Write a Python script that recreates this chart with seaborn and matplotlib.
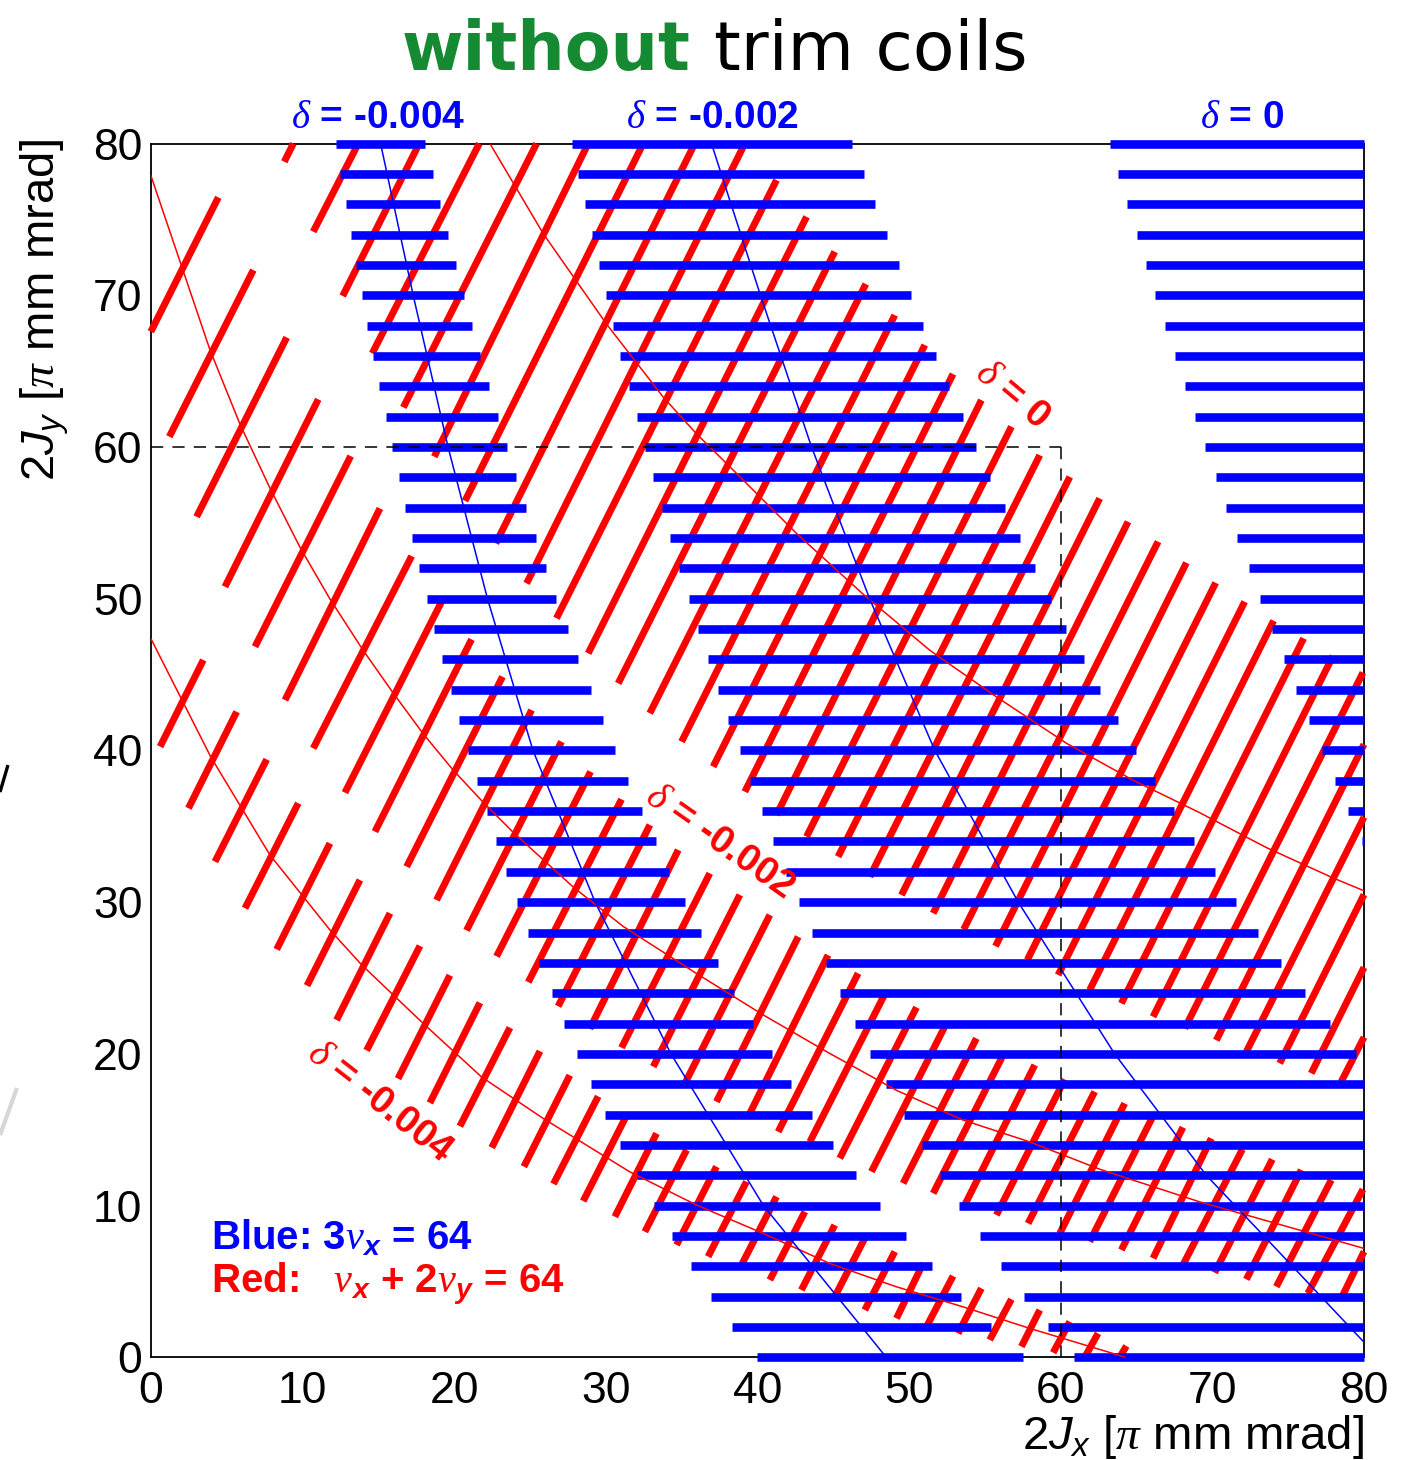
import numpy as np
import pandas as pd
import matplotlib
matplotlib.use("Agg")
import matplotlib.pyplot as plt
from matplotlib.lines import Line2D
import seaborn as sns

# ------------------------------------------------------------------
# 3 nu_x = 64 : horizontal excursion bands (one row every 2 units of 2Jy)
# ------------------------------------------------------------------
row_jy = [80, 78, 76, 74, 72, 70, 68, 66, 64, 62, 60, 58, 56, 54, 52, 50, 48,
          46, 44, 42, 40, 38, 36, 34, 32, 30, 28, 26, 24, 22, 20, 18, 16, 14,
          12, 10, 8, 6, 4, 2, 0]

# delta = -0.004 band
blue_a_left = [12.2, 12.5, 12.85, 13.2, 13.55, 13.9, 14.27, 14.67, 15.06, 15.48,
               15.9, 16.34, 16.78, 17.24, 17.7, 18.2, 18.7, 19.2, 19.77, 20.3,
               20.9, 21.5, 22.14, 22.76, 23.44, 24.14, 24.84, 25.6, 26.43, 27.24,
               28.12, 29.02, 29.98, 30.95, 32.03, 33.19, 34.36, 35.61, 36.93,
               38.33, 40.0]
blue_a_right = [18.1, 18.6, 19.1, 19.6, 20.1, 20.65, 21.2, 21.7, 22.3, 22.87,
                23.5, 24.1, 24.73, 25.4, 26.07, 26.75, 27.5, 28.2, 29.0, 29.8,
                30.6, 31.48, 32.36, 33.3, 34.2, 35.2, 36.27, 37.37, 38.47, 39.68,
                40.93, 42.2, 43.57, 44.99, 46.5, 48.09, 49.78, 51.54, 53.41,
                55.43, 57.5]
# delta = -0.002 band
blue_b_left = [27.75, 28.14, 28.62, 29.06, 29.55, 30.0, 30.49, 30.97, 31.5, 32.03,
               32.58, 33.13, 33.68, 34.25, 34.84, 35.46, 36.09, 36.75, 37.39,
               38.09, 38.82, 39.52, 40.3, 41.06, 41.87, 42.73, 43.57, 44.55,
               45.43, 46.44, 47.43, 48.5, 49.65, 50.86, 52.02, 53.3, 54.66,
               56.09, 57.58, 59.16, 60.86]
blue_b_right = [46.27, 47.0, 47.78, 48.53, 49.32, 50.13, 50.95, 51.78, 52.64,
                53.54, 54.44, 55.37, 56.31, 57.3, 58.29, 59.34, 60.37, 61.52,
                62.62, 63.78, 64.99, 66.22, 67.5, 68.81, 70.17, 71.58, 73.03,
                74.55, 76.13, 77.73, 79.45, 80, 80, 80, 80, 80, 80, 80, 80, 80, 80]
# delta = 0 band (rows 80 .. 34)
blue_c_left = [63.23, 63.8, 64.4, 65.01, 65.62, 66.24, 66.88, 67.51, 68.17, 68.85,
               69.54, 70.24, 70.92, 71.65, 72.4, 73.14, 73.96, 74.7, 75.5, 76.35,
               77.2, 78.06, 78.96, 79.9] + [np.nan] * 17
blue_c_right = [80.0] * 24 + [np.nan] * 17

# resonance centre lines of 3 nu_x = 64
blue_mid_a_x = [15.15, 17.3, 19.6, 22.2, 25.2, 29.3, 34.3, 40.4, 48.5]
blue_mid_a_y = [80, 70, 60, 50, 40, 30, 20, 10, 0]
blue_mid_b_x = [36.97, 40.2, 43.57, 47.4, 51.7, 57.2, 63.56, 69.6, 73.4, 80.0]
blue_mid_b_y = [80, 70, 60, 50, 40, 30, 20, 12, 8, 1.0]

# ------------------------------------------------------------------
# nu_x + 2 nu_y = 64 : excursions along d(2Jy)/d(2Jx) = 2
# ------------------------------------------------------------------
# delta = -0.004
red_a_x0 = [0.61, 2.48, 4.23, 6.21, 8.3, 10.3, 12.25, 14.23, 16.3, 18.4, 20.38,
            22.48, 24.6, 26.55, 28.51, 30.6, 32.58, 34.67, 36.75, 38.84, 40.82,
            42.9, 44.99, 47.08, 49.17, 51.15, 53.23, 55.32, 57.41, 59.5, 61.58,
            63.89]
red_a_y0 = [40.25, 36.19, 32.67, 29.6, 26.89, 24.5, 22.23, 20.23, 18.37, 16.77,
            15.23, 13.82, 12.57, 11.43, 10.3, 9.27, 8.28, 7.41, 6.64, 5.87, 5.1,
            4.44, 3.78, 3.12, 2.57, 2.02, 1.58, 1.15, 0.71, 0.31, 0.0, 0.0]
red_a_x1 = [3.46, 5.66, 7.64, 9.72, 11.81, 13.79, 15.77, 17.75, 19.72, 21.7,
            23.68, 25.66, 27.63, 29.5, 31.4, 33.35, 35.33, 37.3, 39.28, 41.26,
            43.13, 45.1, 47.08, 49.06, 50.93, 52.9, 54.77, 56.75, 58.62, 60.6,
            62.46, 64.33]
red_a_y1 = [45.96, 42.55, 39.41, 36.52, 33.88, 31.46, 29.27, 27.12, 25.18, 23.37,
            21.73, 20.18, 18.59, 17.2, 16.0, 14.76, 13.67, 12.57, 11.58, 10.59,
            9.6, 8.72, 7.85, 6.97, 6.2, 5.36, 4.55, 3.83, 3.12, 2.35, 1.58, 0.75]

# delta = -0.002
red_b_x0 = [0.0, 1.22, 3.02, 4.89, 6.87, 8.85, 10.71, 12.8, 14.78, 16.87, 18.84,
            20.82, 22.8, 24.89, 26.86, 28.95, 31.04, 33.13, 35.22, 37.3, 39.39,
            41.37, 43.46, 45.43, 47.52, 49.61, 51.59, 53.67, 55.76, 57.85, 59.94,
            61.91, 64.0, 66.09, 68.06, 70.15, 72.24, 74.22, 76.3, 78.5]
red_b_y0 = [67.6, 60.68, 55.4, 50.79, 46.84, 43.32, 40.14, 37.22, 34.65, 32.34,
            30.14, 28.14, 26.43, 24.73, 23.14, 21.66, 20.41, 19.16, 18.06, 16.85,
            15.86, 14.87, 14.21, 13.12, 12.24, 11.47, 10.81, 10.04, 9.38, 8.83,
            8.17, 7.63, 7.08, 6.53, 6.09, 5.58, 5.14, 4.66, 4.22, 3.89]
red_b_x1 = [4.45, 6.76, 8.96, 11.04, 13.18, 15.11, 17.2, 19.17, 21.15, 23.19,
            25.11, 27.08, 29.0, 31.04, 32.91, 34.78, 36.86, 38.84, 40.82, 42.69,
            44.66, 46.64, 48.51, 50.49, 52.46, 54.44, 56.31, 58.29, 60.26, 62.24,
            64.22, 66.09, 68.06, 69.93, 71.98, 73.95, 75.87, 77.84, 79.93, 80.0]
red_b_y1 = [76.45, 71.66, 67.22, 63.14, 59.4, 55.95, 52.81, 49.8, 47.32, 44.86,
            42.66, 40.58, 38.6, 36.78, 35.09, 33.44, 31.9, 30.48, 29.16, 27.72,
            26.51, 25.31, 24.16, 23.07, 22.01, 21.02, 20.14, 19.27, 18.32, 17.51,
            16.74, 15.91, 15.16, 14.43, 13.71, 13.05, 12.35, 11.69, 11.07, 6.97]

# delta = 0
red_c_x0 = [8.8, 10.71, 12.65, 14.6, 16.65, 18.69, 20.72, 22.75, 24.78, 26.75,
            28.84, 30.82, 32.9, 35.0, 37.08, 39.17, 41.26, 43.24, 45.32, 47.41,
            49.5, 51.59, 53.6, 55.7, 57.8, 59.83, 61.91, 64.0, 66.09, 68.18,
            70.26, 72.24, 74.44, 76.52, 78.5]
red_c_y0 = [78.8, 74.19, 69.95, 66.17, 62.61, 59.36, 56.45, 53.65, 51.01, 48.71,
            46.4, 44.42, 42.45, 40.58, 38.93, 37.28, 35.75, 34.32, 33.0, 31.68,
            30.47, 29.27, 28.2, 27.1, 26.2, 25.2, 24.21, 23.33, 22.45, 21.68,
            20.9, 20.14, 19.38, 18.72, 18.17]
red_c_x1 = [9.4, 13.68, 17.7, 21.66, 25.44, 28.84, 32.47, 35.87, 39.17, 41.26,
            43.24, 45.1, 47.15, 49.06, 51.04, 52.9, 54.77, 56.75, 58.62, 60.6,
            62.57, 64.44, 66.42, 68.29, 70.22, 72.13, 74.04, 76.02, 77.95, 79.93,
            80.0, 80.0, 80.0, 80.0, 80.0]
red_c_y1 = [80.0, 80.0, 80.0, 80.0, 80.0, 80.0, 80.0, 80.0, 80.0, 77.59, 75.17,
            72.87, 70.74, 68.69, 66.72, 64.81, 63.09, 61.34, 59.46, 58.03, 56.61,
            55.07, 53.76, 52.37, 51.05, 49.8, 48.55, 47.39, 46.22, 45.13, 40.4,
            35.6, 30.5, 25.7, 21.1]

# resonance centre lines of nu_x + 2 nu_y = 64
red_mid_a_x = [0.0, 3.95, 7.86, 11.81, 13.9, 17.97, 21.81, 25.87, 31.58, 35.98,
               40.38, 44.77, 49.17, 53.56, 57.96, 64.3]
red_mid_a_y = [47.38, 39.58, 33.1, 28.17, 25.87, 22.0, 18.48, 15.75, 12.23, 10.04,
               8.17, 6.19, 4.65, 3.33, 1.91, 0.0]
red_mid_b_x = [0.0, 3.9, 5.88, 7.85, 9.83, 11.8, 14.0, 16.0, 17.96, 19.94, 21.9,
               23.9, 27.85, 31.15, 35.98, 40.4, 44.77, 49.17, 53.56, 57.96, 62.57,
               69.16, 75.75, 80.0]
red_mid_b_y = [77.9, 66.4, 61.5, 57.3, 53.4, 50.0, 46.6, 43.76, 41.1, 38.7, 36.6,
               34.6, 31.0, 28.4, 25.3, 22.56, 20.03, 17.6, 15.64, 14.2, 12.4,
               10.25, 8.39, 7.18]
red_mid_c_x = [22.36, 25.87, 30.05, 33.78, 35.98, 38.18, 42.58, 46.97, 51.37,
               55.76, 60.4, 64.77, 69.16, 73.56, 77.95, 80.0]
red_mid_c_y = [80.0, 74.07, 68.1, 63.3, 60.87, 58.7, 54.3, 50.3, 46.6, 43.53,
               40.46, 38.04, 35.9, 33.6, 31.6, 30.75]

# operating aperture guide
ref_jx = 60
ref_jy = 60

# ------------------------------------------------------------------
sns.set_theme(style="white", rc={"text.color": "black",
                                 "axes.labelcolor": "black",
                                 "xtick.color": "black",
                                 "ytick.color": "black",
                                 "axes.edgecolor": "black"})
plt.rcParams["font.family"] = ["Liberation Sans", "DejaVu Sans"]
plt.rcParams["mathtext.fontset"] = "custom"
plt.rcParams["mathtext.rm"] = "Liberation Sans"
plt.rcParams["mathtext.it"] = "Liberation Sans:italic"
plt.rcParams["mathtext.bf"] = "Liberation Sans:italic:bold"
plt.rcParams["mathtext.sf"] = "Liberation Serif:italic"
plt.rcParams["lines.solid_capstyle"] = "butt"

BLUE = "#0000ff"
RED = "#ff0000"


def horizontal_frame(lefts, rights, tag):
    recs = []
    for k, (y, a, b) in enumerate(zip(row_jy, lefts, rights)):
        if np.isnan(a):
            continue
        recs.append((f"{tag}{k}", a, y))
        recs.append((f"{tag}{k}", b, y))
    return pd.DataFrame(recs, columns=["seg", "x", "y"])


def slanted_frame(x0, y0, x1, y1, tag):
    recs = []
    for k in range(len(x0)):
        recs.append((f"{tag}{k}", x0[k], y0[k]))
        recs.append((f"{tag}{k}", x1[k], y1[k]))
    return pd.DataFrame(recs, columns=["seg", "x", "y"])


blue_df = pd.concat([
    horizontal_frame(blue_a_left, blue_a_right, "a"),
    horizontal_frame(blue_b_left, blue_b_right, "b"),
    horizontal_frame(blue_c_left, blue_c_right, "c"),
], ignore_index=True)

red_df = pd.concat([
    slanted_frame(red_a_x0, red_a_y0, red_a_x1, red_a_y1, "a"),
    slanted_frame(red_b_x0, red_b_y0, red_b_x1, red_b_y1, "b"),
    slanted_frame(red_c_x0, red_c_y0, red_c_x1, red_c_y1, "c"),
], ignore_index=True)

fig = plt.figure(figsize=(14.03, 14.60), dpi=100)
ax = fig.add_axes([0.1075, 0.0703, 0.8647, 0.8314])

sns.lineplot(data=red_df, x="x", y="y", units="seg", estimator=None, sort=False,
             color=RED, lw=5.0, ax=ax, legend=False, zorder=2, clip_on=False)
sns.lineplot(data=blue_df, x="x", y="y", units="seg", estimator=None, sort=False,
             color=BLUE, lw=6.2, ax=ax, legend=False, zorder=3, clip_on=False)

for cx, cy in [(red_mid_a_x, red_mid_a_y), (red_mid_b_x, red_mid_b_y),
               (red_mid_c_x, red_mid_c_y)]:
    sns.lineplot(x=cx, y=cy, sort=False, color=RED, lw=1.1, ax=ax, zorder=5)
for cx, cy in [(blue_mid_a_x, blue_mid_a_y), (blue_mid_b_x, blue_mid_b_y)]:
    sns.lineplot(x=cx, y=cy, sort=False, color=BLUE, lw=1.1, ax=ax, zorder=5)

ax.plot([0, ref_jx], [ref_jy, ref_jy], color="black", lw=1.1,
        dashes=(8, 6), zorder=6)
ax.plot([ref_jx, ref_jx], [ref_jy, 0], color="black", lw=1.1,
        dashes=(8, 6), zorder=6)

ax.set_xlim(0, 80)
ax.set_ylim(0, 80)
ax.set_xlabel("")
ax.set_ylabel("")
ax.set_xticks(np.arange(0, 81, 10))
ax.set_yticks(np.arange(0, 81, 10))
ax.set_xticks(np.arange(0, 81, 2), minor=True)
ax.set_yticks(np.arange(0, 81, 2), minor=True)
ax.tick_params(axis="both", which="both", direction="in", top=False,
               right=False, color="black", labelcolor="black", width=1.2)
ax.tick_params(axis="both", which="major", length=26, labelsize=32)
ax.tick_params(axis="both", which="minor", length=13)
ax.tick_params(axis="x", which="major", pad=10)
ax.tick_params(axis="y", which="major", pad=6)
for sp in ax.spines.values():
    sp.set_visible(True)
    sp.set_color("black")
    sp.set_linewidth(1.3)
    sp.set_zorder(1)

# band labels above the frame
top_label_kw = dict(color=BLUE, fontsize=28, fontweight="bold", ha="center",
                    va="center", clip_on=False)
ax.text(15.0, 81.7, r"$\mathsf{\delta}$ = -0.004", **top_label_kw)
ax.text(37.05, 81.7, r"$\mathsf{\delta}$ = -0.002", **top_label_kw)
ax.text(72.0, 81.7, r"$\mathsf{\delta}$ = 0", **top_label_kw)

# labels along the coupling resonance
red_label_kw = dict(color=RED, fontsize=28, fontweight="bold", ha="center",
                    va="center", rotation_mode="anchor")
ax.text(56.8, 63.4, r"$\mathsf{\delta}$ = 0", rotation=-40, **red_label_kw)
ax.text(37.5, 34.0, r"$\mathsf{\delta}$ = -0.002", rotation=-35, **red_label_kw)
ax.text(15.1, 16.8, r"$\mathsf{\delta}$ = -0.004", rotation=-38, **red_label_kw)

ax.text(4.0, 7.9, r"Blue: 3$\mathsf{\nu}_{\mathbf{x}}$ = 64", color=BLUE,
        fontsize=29, fontweight="bold", ha="left", va="center")
ax.text(4.0, 4.8, r"Red:   $\mathsf{\nu}_{\mathbf{x}}$ + 2$\mathsf{\nu}_{\mathbf{y}}$ = 64",
        color=RED, fontsize=29, fontweight="bold", ha="left", va="center")

# axis titles
fig.text(0.032, 0.905, r"2$J_{y}$ [$\mathsf{\pi}$ mm mrad]", rotation=90,
         fontsize=34, color="black", ha="center", va="top")
fig.text(0.9725, 0.016, r"2$J_{x}$ [$\mathsf{\pi}$ mm mrad]", fontsize=34,
         color="black", ha="right", va="center")

# title
fig.text(0.492, 0.952, "without", fontsize=48, fontweight="bold",
         color="#168a32", family="DejaVu Sans", ha="right", va="baseline")
fig.text(0.509, 0.952, "trim coils", fontsize=49, color="black",
         family="DejaVu Sans", ha="left", va="baseline")

# stroke fragments at the left page edge
fig.add_artist(Line2D([0.0, 0.0057], [0.4575, 0.4760], color="black", lw=2.4,
                      transform=fig.transFigure))
fig.add_artist(Line2D([0.0, 0.0121], [0.2226, 0.2548], color="#d6d6d6", lw=3.0,
                      transform=fig.transFigure))

fig.savefig("out.png", dpi=100, facecolor="white")
